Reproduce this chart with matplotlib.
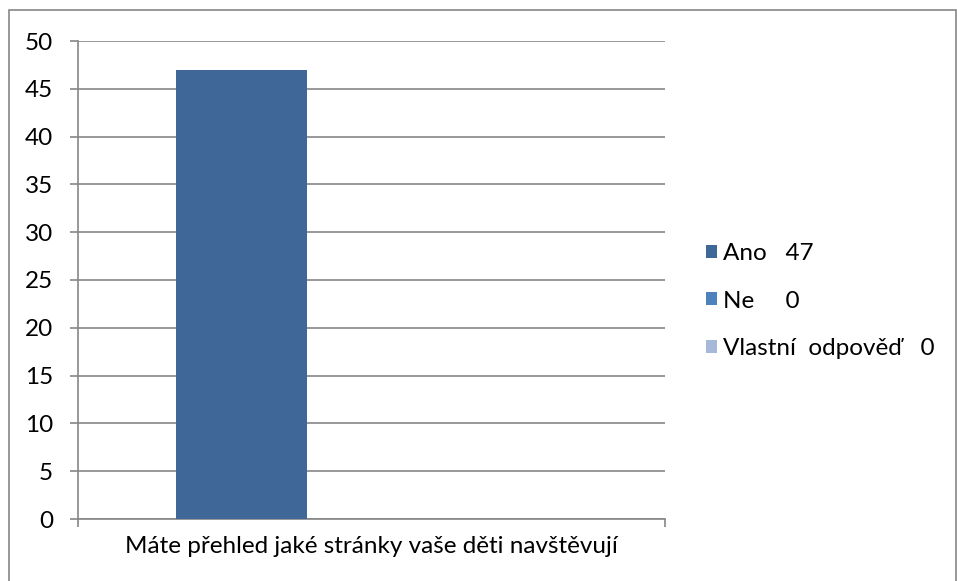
import matplotlib
matplotlib.use('Agg')
import matplotlib.pyplot as plt
from matplotlib.patches import Rectangle
import numpy as np

plt.rcParams['font.family'] = ['Lato', 'DejaVu Sans']

category = 'Máte přehled jaké stránky vaše děti navštěvují'
series = ['Ano', 'Ne', 'Vlastní  odpověď']
values = [47, 0, 0]
colors = ['#3F6797', '#4F81BD', '#A7B9D9']
yticks = np.arange(0, 51, 5)

W, H = 957, 581
fs = 17.5
fig = plt.figure(figsize=(W / 100, H / 100), dpi=100)
ax = fig.add_axes([78 / W, (H - 519) / H, 587 / W, 478 / H])

grid_c = '#868686'
bw = 130 / 587
gaps = ['   ', '     ', '   ']
for i, (name, v, c) in enumerate(zip(series, values, colors)):
    ax.bar((i - 1) * bw, v, width=bw, color=c, zorder=3,
           label=f'{name}{gaps[i]}{v}')

ax.set_xlim(-0.5, 0.5)
ax.set_ylim(0, 50)
ax.set_yticks(yticks)
ax.yaxis.grid(True, color=grid_c, linewidth=1.2, zorder=0)
ax.tick_params(axis='y', length=6, width=1.2, color=grid_c, pad=12, labelsize=fs)
ax.set_xticks([-0.5, 0.5])
ax.set_xticklabels(['', ''])
ax.tick_params(axis='x', length=6, width=1.2, color=grid_c)
ax.set_xticks([0], [category], minor=True)
ax.tick_params(axis='x', which='minor', length=0, pad=12, labelsize=fs)
for s in ['top', 'right']:
    ax.spines[s].set_visible(False)
for s in ['left', 'bottom']:
    ax.spines[s].set_color(grid_c)
    ax.spines[s].set_linewidth(1.2)

fig.legend(loc='center left', bbox_to_anchor=(694 / W, (H - 301) / H),
           frameon=False, fontsize=fs, handlelength=0.45, handleheight=0.45,
           handletextpad=0.25, labelspacing=1.08, borderpad=0)

fig.add_artist(Rectangle((9 / W, -0.05), (956 - 9) / W, (H - 10) / H + 0.05,
                         transform=fig.transFigure, fill=False,
                         edgecolor=grid_c, linewidth=1.2))

plt.savefig('out.png', dpi=100)
